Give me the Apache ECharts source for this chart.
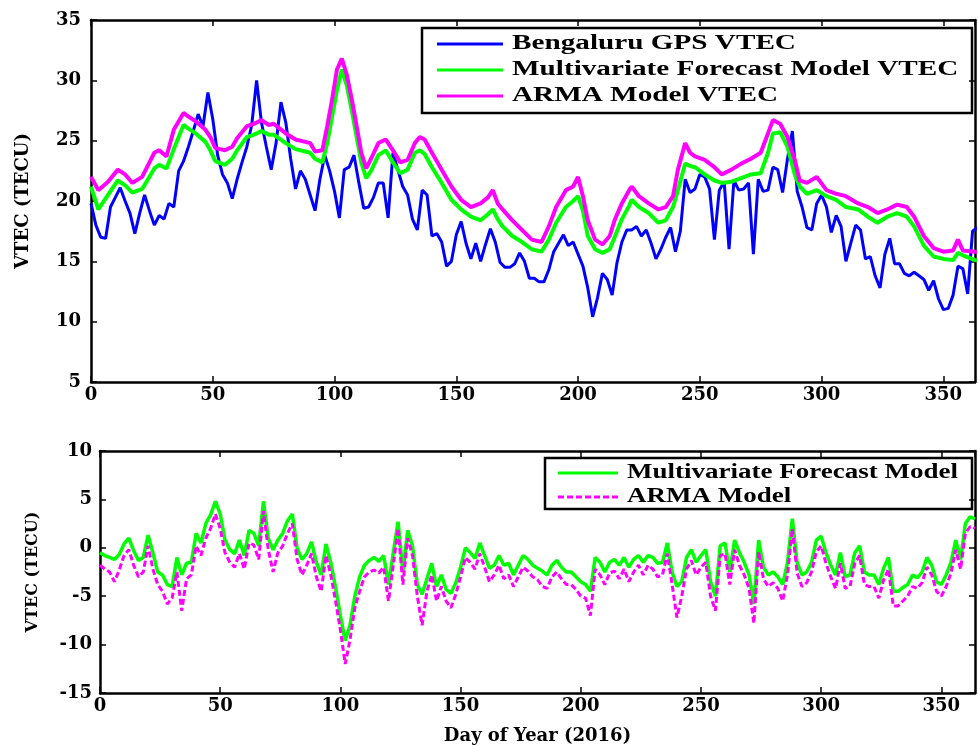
<!DOCTYPE html>
<html>
<head>
<meta charset="utf-8">
<script src="https://cdn.jsdelivr.net/npm/echarts@6/dist/echarts.min.js"></script>
<style>
html,body{margin:0;padding:0;background:#fff;}
#chart{width:978px;height:746px;}
</style>
</head>
<body>
<div id="chart"></div>
<script>
// ---------- DATA ----------
// Day sampling for the noisy series (every 2nd day of 2016)
const noisyStep = 2;

// Bengaluru GPS VTEC (TECU), days 0,2,4,...,364
const gpsVTEC = [
  19.8, 18.0, 17.0, 16.9, 19.5, 20.3, 21.1, 20.0, 19.0, 17.3,
  19.0, 20.5, 19.2, 18.0, 18.8, 18.5, 19.8, 19.5, 22.5, 23.3,
  24.5, 25.8, 27.2, 26.2, 29.0, 26.8, 23.8, 22.2, 21.5, 20.2,
  21.8, 23.2, 24.5, 26.3, 30.0, 26.5, 24.5, 22.6, 24.8, 28.2,
  26.5, 23.5, 21.0, 22.5, 21.8, 20.5, 19.2, 21.8, 23.8, 22.5,
  20.8, 18.6, 22.6, 22.8, 23.8, 21.5, 19.4, 19.5, 20.3, 21.5,
  21.5, 18.6, 24.0, 22.6, 21.2, 20.5, 18.5, 17.6, 20.9, 20.5,
  17.1, 17.3, 16.6, 14.6, 15.0, 17.2, 18.3, 16.5, 15.2, 16.5,
  15.0, 16.4, 17.7, 16.6, 14.9, 14.5, 14.5, 14.8, 15.7, 15.0,
  13.6, 13.6, 13.3, 13.3, 14.3, 15.8, 16.5, 17.2, 16.3, 16.6,
  15.6, 14.6, 12.8, 10.4, 12.0, 14.0, 13.5, 12.2, 14.9, 16.6,
  17.6, 17.6, 17.9, 17.1, 17.6, 16.5, 15.2, 16.0, 17.0, 17.8,
  15.8, 17.5, 21.8, 20.7, 21.0, 22.2, 22.0, 21.0, 16.8, 20.9,
  21.6, 16.0, 21.7, 20.9, 21.0, 21.5, 15.6, 21.8, 20.8, 20.9,
  22.8, 22.6, 20.7, 23.5, 25.8, 20.8, 19.5, 17.8, 17.6, 19.8,
  20.5, 19.5, 17.4, 18.8, 17.9, 15.0, 16.5, 18.0, 17.6, 15.2,
  15.4, 13.8, 12.8, 15.6, 16.9, 14.8, 14.8, 14.0, 13.8, 14.1,
  13.8, 13.5, 12.6, 13.4, 11.9, 11.0, 11.1, 12.2, 14.6, 14.4,
  12.3, 17.5, 17.8
];

// Days at which the smoother model curves were read
const modelDays = [
  0, 3, 7, 11, 14, 17, 21, 24, 26, 28,
  31, 34, 38, 40, 43, 47, 49, 51, 55, 58,
  60, 64, 67, 70, 73, 75, 80, 84, 88, 90,
  92, 95, 97, 99, 101, 103, 105, 107, 109, 111,
  113, 115, 118, 121, 124, 127, 130, 133, 135, 137,
  140, 144, 148, 152, 156, 160, 163, 165, 167, 169,
  173, 177, 181, 185, 188, 191, 195, 198, 200, 202,
  204, 207, 210, 213, 215, 218, 221, 222, 225, 229,
  233, 236, 239, 241, 244, 246, 248, 252, 256, 259,
  263, 267, 271, 275, 278, 280, 283, 286, 289, 291,
  294, 298, 302, 306, 310, 315, 319, 323, 327, 331,
  335, 338, 342, 346, 350, 354, 356, 358, 363, 366
];

// Multivariate Forecast Model VTEC (TECU)
const multiVTEC = [
  21.2, 19.3, 20.5, 21.7, 21.3, 20.7, 21.0, 22.0, 22.7, 23.0,
  22.7, 24.3, 26.3, 26.0, 25.6, 24.9, 24.2, 23.3, 23.0, 23.5,
  24.2, 25.3, 25.5, 25.8, 25.5, 25.5, 24.8, 24.3, 24.1, 24.0,
  23.5, 23.2, 24.8, 27.0, 29.2, 30.9, 29.6, 27.6, 25.4, 23.2,
  21.9, 22.5, 23.8, 24.2, 23.2, 22.3, 22.6, 24.0, 24.2, 23.9,
  22.8, 21.5, 20.1, 19.3, 18.7, 18.4, 18.9, 19.3, 18.5, 17.9,
  17.1, 16.6, 16.0, 15.8, 16.8, 18.2, 19.5, 20.0, 20.4, 19.2,
  17.1, 16.0, 15.7, 16.0, 17.0, 18.5, 19.6, 20.1, 19.5, 19.0,
  18.2, 18.4, 19.5, 20.9, 23.1, 22.9, 22.8, 22.2, 21.7, 21.5,
  21.6, 21.9, 22.2, 22.3, 24.0, 25.6, 25.7, 24.5, 22.2, 21.2,
  20.6, 20.9, 20.4, 20.1, 19.5, 19.3, 18.7, 18.2, 18.7, 19.0,
  18.7, 17.9, 16.3, 15.4, 15.2, 15.1, 15.7, 15.5, 15.1, 15.0
];

// ARMA Model VTEC (TECU)
const armaVTEC = [
  22.0, 20.9, 21.6, 22.6, 22.2, 21.5, 22.0, 23.2, 24.0, 24.2,
  23.7, 25.9, 27.3, 27.0, 26.6, 25.9, 25.3, 24.4, 24.2, 24.5,
  25.2, 26.2, 26.4, 26.7, 26.3, 26.4, 25.6, 25.1, 24.9, 24.8,
  24.1, 24.2, 26.2, 28.4, 30.9, 31.8, 30.5, 28.5, 26.3, 24.0,
  22.7, 23.5, 24.8, 25.1, 24.2, 23.2, 23.4, 24.8, 25.3, 25.1,
  24.0, 22.6, 21.2, 20.1, 19.5, 19.8, 20.3, 20.9, 19.8, 19.3,
  18.4, 17.6, 16.8, 16.6, 17.9, 19.5, 20.9, 21.2, 22.0, 20.4,
  18.4, 16.8, 16.4, 17.1, 18.4, 19.8, 20.9, 21.2, 20.4, 19.8,
  19.3, 19.5, 20.4, 22.6, 24.8, 24.0, 23.7, 23.4, 22.8, 22.2,
  22.6, 23.1, 23.5, 24.0, 25.6, 26.7, 26.4, 25.3, 23.4, 21.7,
  21.5, 22.0, 20.9, 20.6, 20.4, 19.8, 19.5, 19.0, 19.3, 19.7,
  19.5, 18.7, 17.1, 16.1, 15.8, 15.9, 16.8, 15.9, 15.8, 15.8
];

// Lower panel: VTEC differences (TECU), days 0,2,...,364
const diffMulti = [
  -0.5, -0.8, -1.0, -1.2, -0.7, 0.4, 1.0, -0.3, -1.3, -1.0,
  1.3, -0.5, -2.5, -2.8, -3.8, -4.0, -1.0, -2.8, -1.6, -1.5,
  1.5, 0.5, 2.5, 3.4, 4.8, 3.5, 0.8, -0.2, -0.6, 0.8,
  -0.8, 1.8, 1.5, 0.2, 4.8, 1.0, -0.2, 0.8, 1.5, 2.8,
  3.5, 0.0, -1.2, -0.6, 0.6, -1.5, -2.8, 0.4, -1.5, -4.1,
  -7.0, -9.6, -8.0, -5.0, -3.0, -1.8, -1.3, -1.0, -1.4, -0.8,
  -3.8, -0.5, 2.7, -2.5, 1.8, 0.2, -3.8, -4.8, -3.2, -1.6,
  -4.0, -2.8, -4.3, -4.7, -3.6, -2.0, 0.0, -0.5, -1.1, 0.5,
  -0.8, -2.1, -1.8, -0.8, -1.8, -1.6, -2.8, -1.8, -0.8, -1.2,
  -1.8, -2.1, -2.4, -2.8, -1.8, -1.3, -2.0, -2.5, -2.5, -3.0,
  -3.5, -3.8, -4.5, -1.0, -1.5, -2.5, -1.5, -1.2, -1.8, -1.0,
  -2.0, -1.2, -0.8, -1.5, -0.8, -1.0, -1.6, -1.5, 0.5, -2.5,
  -4.0, -3.5, -1.0, -0.2, -1.5, -0.8, -0.2, -3.5, -5.0, 0.2,
  0.5, -2.5, 0.8, -0.5, -1.5, -2.8, -5.8, 0.8, -2.0, -2.8,
  -2.5, -3.0, -3.8, -1.5, 3.0, -1.5, -2.8, -2.5, -1.5, 0.8,
  1.2, -0.5, -1.8, -2.8, -0.5, -3.0, -2.8, -0.5, 0.2, -2.5,
  -2.8, -2.8, -3.8, -2.1, -1.0, -4.5, -4.5, -4.1, -3.8, -2.8,
  -3.1, -2.5, -1.0, -1.8, -3.5, -3.8, -2.8, -1.5, 0.8, -1.2,
  2.5, 3.2, 3.0
];

const diffArma = [
  -1.8, -2.2, -2.5, -3.5, -2.3, -0.8, -0.2, -1.8, -3.0, -2.5,
  0.2, -2.2, -3.8, -4.5, -5.8, -5.2, -2.5, -6.5, -3.2, -2.8,
  0.2, -0.8, 1.0, 2.0, 3.5, 2.0, -0.5, -1.5, -2.0, -0.6,
  -2.2, 0.5, 0.3, -1.2, 3.8, -0.2, -2.5, -0.5, 0.2, 1.5,
  2.5, -1.2, -2.8, -1.8, -0.6, -3.0, -4.5, -0.8, -2.8, -5.5,
  -8.5, -12.0, -9.5, -6.2, -4.5, -3.0, -2.5, -2.3, -2.6, -2.0,
  -5.5, -1.8, 2.0, -3.8, 1.0, -0.8, -5.0, -8.0, -4.5, -2.8,
  -5.5, -4.0, -5.5, -6.2, -4.8, -3.0, -1.0, -1.5, -2.2, -0.6,
  -2.0, -3.5, -2.8, -1.8, -3.2, -2.8, -4.0, -3.0, -2.0, -2.4,
  -3.0, -3.3, -4.0, -4.2, -3.0, -2.5, -3.2, -3.8, -3.8, -4.3,
  -5.0, -5.2, -7.0, -2.2, -2.8, -3.8, -2.6, -2.4, -3.2, -2.2,
  -3.5, -2.5, -1.8, -2.8, -1.8, -2.2, -3.0, -2.8, -0.6, -3.8,
  -7.2, -5.0, -2.2, -1.3, -2.8, -2.0, -1.5, -5.0, -6.5, -0.8,
  -0.6, -3.8, -0.2, -1.8, -2.8, -4.2, -7.8, -0.4, -3.2, -4.0,
  -3.6, -4.2, -5.5, -2.8, 2.0, -2.6, -4.0, -3.6, -2.5, -0.4,
  0.2, -1.6, -3.0, -4.2, -1.6, -4.2, -4.0, -1.6, -0.8, -3.8,
  -4.0, -4.0, -5.2, -3.3, -2.2, -6.0, -6.0, -5.5, -5.0, -4.0,
  -4.2, -3.6, -2.0, -2.8, -4.5, -5.0, -4.0, -2.6, -0.2, -2.2,
  1.5, 2.2, 2.0
];

const topNames = ['Bengaluru GPS VTEC', 'Multivariate Forecast Model VTEC', 'ARMA Model VTEC'];
const bottomNames = ['Multivariate Forecast Model', 'ARMA Model'];
const yNameTop = 'VTEC (TECU)';
const yNameBottom = 'VTEC (TECU)';
const xNameBottom = 'Day of Year (2016)';

// ---------- BUILD ----------
const pairsStep = (arr) => arr.map((v, i) => [i * noisyStep, v]);
const pairsDays = (days, arr) => arr.map((v, i) => [days[i], v]);

const AXFONT = "'DejaVu Serif', 'Liberation Serif', serif";
const LGFONT = "'Liberation Serif', 'Times New Roman', serif";
const labelStyle = { color: '#000', fontFamily: AXFONT, fontWeight: 'bold', fontSize: 18 };
const axisLine = { show: true, onZero: false, lineStyle: { color: '#000', width: 2.5 } };
const tickIn = { show: true, inside: true, length: 6, lineStyle: { color: '#000', width: 1.5 } };

function xMain(grid, max, extra) {
  return Object.assign({
    type: 'value', gridIndex: grid, min: 0, max: max, interval: 50,
    axisLine: axisLine, axisTick: tickIn, splitLine: { show: false },
    axisLabel: Object.assign({ margin: 4, showMaxLabel: false }, labelStyle)
  }, extra || {});
}
function xTop(grid, max) {
  return {
    type: 'value', gridIndex: grid, position: 'top', min: 0, max: max, interval: 50,
    axisLine: axisLine, axisTick: tickIn, splitLine: { show: false }, axisLabel: { show: false }
  };
}
function yMain(grid, min, max, name, gap, margin, nameSize) {
  return {
    type: 'value', gridIndex: grid, min: min, max: max, interval: 5,
    name: name, nameLocation: 'middle', nameGap: gap, nameRotate: 90,
    nameTextStyle: { color: '#000', fontFamily: AXFONT, fontWeight: 'bold', fontSize: nameSize },
    axisLine: axisLine, axisTick: tickIn, splitLine: { show: false },
    axisLabel: Object.assign({ margin: margin }, labelStyle)
  };
}
function yRight(grid, min, max) {
  return {
    type: 'value', gridIndex: grid, position: 'right', min: min, max: max, interval: 5,
    axisLine: axisLine, axisTick: tickIn, splitLine: { show: false }, axisLabel: { show: false }
  };
}

// Legend boxes drawn as graphics (MATLAB-style wide legend text)
function legendGroup(box, lineX0, lineX1, textX, rows, names, colors, dashes, scale) {
  const children = [{
    type: 'rect', shape: { x: box[0], y: box[1], width: box[2], height: box[3] },
    style: { fill: '#fff', stroke: '#000', lineWidth: 2.5 }
  }];
  names.forEach((nm, i) => {
    children.push({
      type: 'line', shape: { x1: lineX0, y1: rows[i], x2: lineX1, y2: rows[i] },
      style: { stroke: colors[i], lineWidth: 3, lineDash: dashes[i] || null }
    });
    children.push({
      type: 'text', x: textX, y: rows[i], scaleX: scale,
      style: { text: nm, font: "bold 20px " + LGFONT, fill: '#000', verticalAlign: 'middle', align: 'left' }
    });
  });
  return { type: 'group', z: 100, children: children };
}

const option = {
  backgroundColor: '#fff',
  animation: false,
  grid: [
    { left: 91, top: 20, width: 884, height: 362 },
    { left: 100, top: 451, width: 875, height: 251 }
  ],
  xAxis: [
    xMain(0, 363),
    xTop(0, 363),
    xMain(1, 364, {
      name: xNameBottom, nameLocation: 'middle', nameGap: 34,
      nameTextStyle: { color: '#000', fontFamily: AXFONT, fontWeight: 'bold', fontSize: 18 }
    }),
    xTop(1, 364)
  ],
  yAxis: [
    yMain(0, 5, 35, yNameTop, 59, 10, 18),
    yRight(0, 5, 35),
    yMain(1, -15, 10, yNameBottom, 59, 8, 16),
    yRight(1, -15, 10)
  ],
  graphic: [
    legendGroup([422, 28, 550, 85], 437, 503, 512, [44, 70, 96], topNames,
      ['#0000ff', '#00ff00', '#ff00ff'], [null, null, null], 1.46),
    legendGroup([545, 458, 427, 51], 558, 618, 627, [473, 497], bottomNames,
      ['#00ff00', '#ff00ff'], [null, [6, 3]], 1.35)
  ],
  series: [
    {
      name: topNames[0], type: 'line', xAxisIndex: 0, yAxisIndex: 0,
      data: pairsStep(gpsVTEC), symbol: 'none', clip: true,
      lineStyle: { color: '#0000ff', width: 3 }, itemStyle: { color: '#0000ff' }
    },
    {
      name: topNames[1], type: 'line', xAxisIndex: 0, yAxisIndex: 0,
      data: pairsDays(modelDays, multiVTEC), symbol: 'none', clip: true,
      lineStyle: { color: '#00ff00', width: 4 }, itemStyle: { color: '#00ff00' }
    },
    {
      name: topNames[2], type: 'line', xAxisIndex: 0, yAxisIndex: 0,
      data: pairsDays(modelDays, armaVTEC), symbol: 'none', clip: true,
      lineStyle: { color: '#ff00ff', width: 4 }, itemStyle: { color: '#ff00ff' }
    },
    {
      name: bottomNames[0], type: 'line', xAxisIndex: 2, yAxisIndex: 2,
      data: pairsStep(diffMulti), symbol: 'none', clip: true,
      lineStyle: { color: '#00ff00', width: 3.5 }, itemStyle: { color: '#00ff00' }
    },
    {
      name: bottomNames[1], type: 'line', xAxisIndex: 2, yAxisIndex: 2,
      data: pairsStep(diffArma), symbol: 'none', clip: true,
      lineStyle: { color: '#ff00ff', width: 3, type: [6, 3] }, itemStyle: { color: '#ff00ff' }
    }
  ]
};

const chart = echarts.init(document.getElementById('chart'), null, { renderer: 'canvas' });
chart.setOption(option);
</script>
</body>
</html>
